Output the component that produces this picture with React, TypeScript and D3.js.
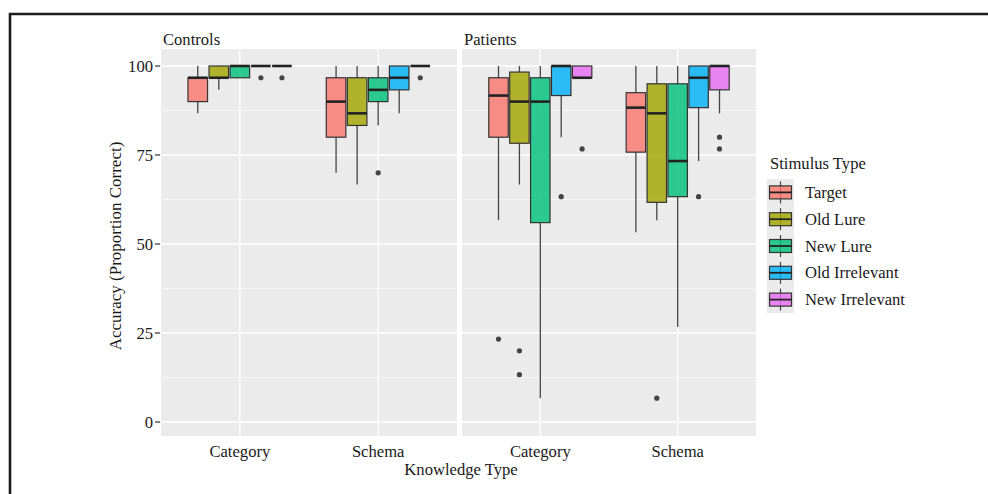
import React from "react";
import * as d3 from "d3";

// Facets, categories and groups
const groups = ["Controls", "Patients"];
const knowledgeTypes = ["Category", "Schema"];
const stimulusTypes = ["Target", "Old Lure", "New Lure", "Old Irrelevant", "New Irrelevant"];
const yTicks = [0, 25, 50, 75, 100];
const yMinorTicks = [12.5, 37.5, 62.5, 87.5];

// Box statistics per stimulus type: [lower whisker, Q1, median, Q3, upper whisker]
const controlsCategoryStats = [
  [86.7, 90, 96.7, 96.7, 100],
  [93.3, 96.7, 96.7, 100, 100],
  [96.7, 96.7, 100, 100, 100],
  [100, 100, 100, 100, 100],
  [100, 100, 100, 100, 100],
];
const controlsSchemaStats = [
  [70, 80, 90, 96.7, 100],
  [66.7, 83.3, 86.7, 96.7, 100],
  [83.3, 90, 93.3, 96.7, 100],
  [86.7, 93.3, 96.7, 100, 100],
  [100, 100, 100, 100, 100],
];
const patientsCategoryStats = [
  [56.7, 80, 91.7, 96.7, 100],
  [66.7, 78.3, 90, 98.3, 100],
  [6.7, 56, 90, 96.7, 100],
  [80, 91.7, 100, 100, 100],
  [96.7, 96.7, 96.7, 100, 100],
];
const patientsSchemaStats = [
  [53.3, 75.8, 88.3, 92.5, 100],
  [56.7, 61.7, 86.7, 95, 100],
  [26.7, 63.3, 73.3, 95, 100],
  [73.3, 88.3, 96.7, 100, 100],
  [86.7, 93.3, 100, 100, 100],
];

// Outlying observations per stimulus type
const controlsCategoryOutliers = [[], [], [], [96.7], [96.7]];
const controlsSchemaOutliers = [[], [], [70], [], [96.7]];
const patientsCategoryOutliers = [[23.3], [20, 13.3], [], [63.3], [76.7]];
const patientsSchemaOutliers = [[], [6.7], [], [63.3], [80, 76.7]];

const statsByPanel = [
  [controlsCategoryStats, controlsSchemaStats],
  [patientsCategoryStats, patientsSchemaStats],
];
const outliersByPanel = [
  [controlsCategoryOutliers, controlsSchemaOutliers],
  [patientsCategoryOutliers, patientsSchemaOutliers],
];

const hueColors = ["#F8766D", "#A3A500", "#00BF7D", "#00B0F6", "#E76BF3"];

const W = 988;
const H = 494;
const panelTop = 49;
const panelBottom = 436;
const panelX = [
  [161, 457],
  [462, 756],
];
const font = "'Liberation Serif', 'DejaVu Serif', serif";
const fs = 16.6;
const panelBg = "#EBEBEB";
const lineColor = "#333333";
const textColor = "#1a1a1a";

export default function App() {
  const y = d3.scaleLinear().domain([0, 100]).range([422, 66]);
  const color = d3.scaleOrdinal<string, string>().domain(stimulusTypes).range(hueColors);

  const panels = groups.map((g, gi) => {
    const [x0, x1] = panelX[gi];
    const x = d3.scalePoint<string>().domain(knowledgeTypes).range([x0, x1]).padding(0.57);
    const step = x.step();
    const dodge = d3
      .scaleBand<string>()
      .domain(stimulusTypes)
      .range([-0.375 * step, 0.375 * step])
      .paddingInner(0.07);
    const bw = dodge.bandwidth();

    return (
      <g key={g}>
        <rect x={x0} y={panelTop} width={x1 - x0} height={panelBottom - panelTop} fill={panelBg} />
        {yMinorTicks.map((t) => (
          <line key={"mn" + t} x1={x0} x2={x1} y1={y(t)} y2={y(t)} stroke="#fff" strokeWidth={0.6} />
        ))}
        {yTicks.map((t) => (
          <line key={"mj" + t} x1={x0} x2={x1} y1={y(t)} y2={y(t)} stroke="#fff" strokeWidth={1.3} />
        ))}
        {knowledgeTypes.map((k) => (
          <line key={"v" + k} x1={x(k)!} x2={x(k)!} y1={panelTop} y2={panelBottom} stroke="#fff" strokeWidth={1.3} />
        ))}
        <text x={x0 + 2} y={45} fontFamily={font} fontSize={fs} fill={textColor}>
          {g}
        </text>
        {knowledgeTypes.map((k, ki) =>
          stimulusTypes.map((s, si) => {
            const [lo, q1, med, q3, hi] = statsByPanel[gi][ki][si];
            const outs = outliersByPanel[gi][ki][si];
            const left = x(k)! + dodge(s)!;
            const cx = left + bw / 2;
            return (
              <g key={k + s}>
                <line x1={cx} x2={cx} y1={y(hi)} y2={y(q3)} stroke="#444" strokeWidth={1.3} />
                <line x1={cx} x2={cx} y1={y(q1)} y2={y(lo)} stroke="#444" strokeWidth={1.3} />
                <rect
                  x={left}
                  y={y(q3)}
                  width={bw}
                  height={Math.max(0, y(q1) - y(q3))}
                  fill={color(s)}
                  fillOpacity={0.82}
                  stroke={lineColor}
                  strokeWidth={1.2}
                />
                <line x1={left} x2={left + bw} y1={y(med)} y2={y(med)} stroke="#222" strokeWidth={2.6} />
                {outs.map((o, oi) => (
                  <circle key={oi} cx={cx} cy={y(o)} r={2.6} fill="#444" />
                ))}
              </g>
            );
          })
        )}
        {knowledgeTypes.map((k) => (
          <text key={"xl" + k} x={x(k)!} y={457} textAnchor="middle" fontFamily={font} fontSize={fs} fill={textColor}>
            {k}
          </text>
        ))}
      </g>
    );
  });

  const keyH = 26.8;
  const keyTop = 179;

  return (
    <svg width={W} height={H} style={{ position: "absolute", left: 0, top: 0, background: "#fff" }}>
      {/* frame */}
      <line x1={9} x2={W} y1={14} y2={14} stroke="#1b1b1b" strokeWidth={2.6} />
      <line x1={10} x2={10} y1={13} y2={H} stroke="#1b1b1b" strokeWidth={2.6} />

      {panels}

      {/* y axis */}
      {yTicks.map((t) => (
        <g key={"yt" + t}>
          <line x1={155} x2={160} y1={y(t)} y2={y(t)} stroke="#333" strokeWidth={1.2} />
          <text x={153} y={y(t) + 5.5} textAnchor="end" fontFamily={font} fontSize={fs} fill={textColor}>
            {t}
          </text>
        </g>
      ))}
      <text
        transform={`translate(121, 246) rotate(-90)`}
        textAnchor="middle"
        fontFamily={font}
        fontSize={fs + 0.4}
        fill={textColor}
      >
        Accuracy (Proportion Correct)
      </text>
      <text x={461} y={475} textAnchor="middle" fontFamily={font} fontSize={fs} fill={textColor}>
        Knowledge Type
      </text>

      {/* legend */}
      <text x={770} y={169} fontFamily={font} fontSize={fs} fill={textColor}>
        Stimulus Type
      </text>
      <rect x={767} y={keyTop} width={27} height={keyH * 5} fill={panelBg} />
      {stimulusTypes.map((s, i) => {
        const cy = keyTop + keyH * i + keyH / 2;
        return (
          <g key={"lg" + s}>
            <line x1={780.5} x2={780.5} y1={cy - 11} y2={cy + 11} stroke="#444" strokeWidth={1.2} />
            <rect x={769.5} y={cy - 6.5} width={22} height={13} fill={color(s)} fillOpacity={0.82} stroke={lineColor} strokeWidth={1.2} />
            <line x1={769.5} x2={791.5} y1={cy} y2={cy} stroke="#222" strokeWidth={1.8} />
            <text x={805} y={cy + 5.5} fontFamily={font} fontSize={fs} fill={textColor}>
              {s}
            </text>
          </g>
        );
      })}
    </svg>
  );
}
